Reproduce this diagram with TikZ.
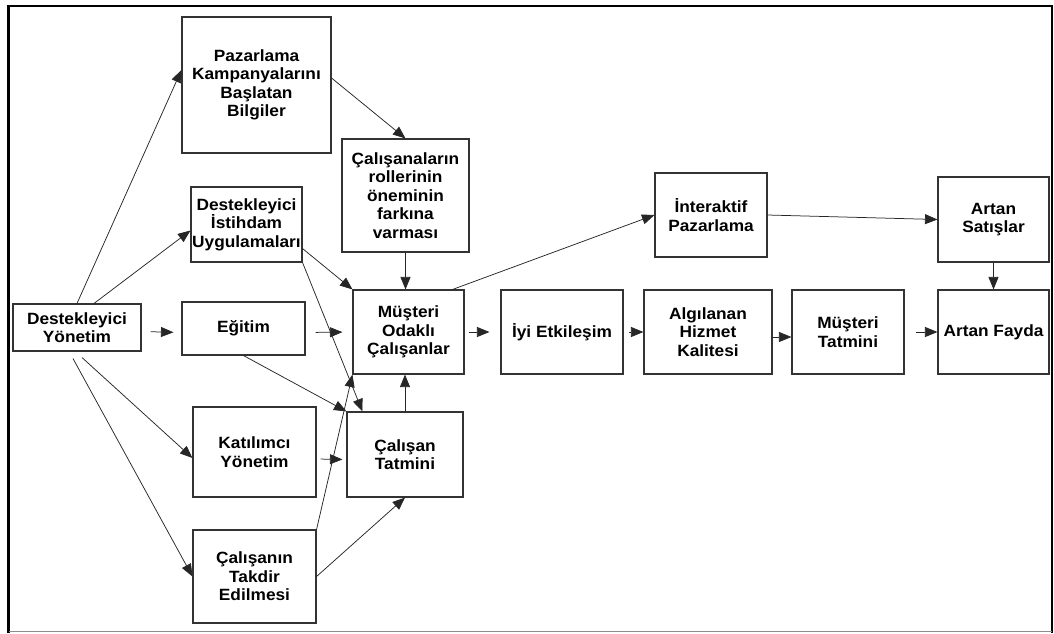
\documentclass[tikz,border=0pt]{standalone}
\usepackage{fontspec}
\setmainfont[FakeStretch=1.06]{Liberation Sans}
\usetikzlibrary{arrows.meta}
\tikzset{
  blk/.style ={draw=black!80, line width=1.1pt, align=center, inner sep=0pt, text=black,
               font=\fontsize{16.3}{18.4}\selectfont\bfseries},
  arr/.style ={-{Triangle[length=12.5pt, width=10pt]}, line width=0.75pt, black!85},   % plain link
}

\begin{document}
\begin{tikzpicture}[x=1pt, y=-1pt]
  \useasboundingbox (0,0) rectangle (1054,633);
  % frame
  \draw[line width=2.5pt] (8.5,633) -- (8.5,6) -- (1052,6) -- (1052,633);
  \draw[black!45, line width=1.5pt] (8.5,631.5) -- (1052,631.5);

  % left side
  \node[blk, minimum width=128pt, minimum height=47pt]  (dy)  at (77,327.5)    {Destekleyici\\Yönetim};
  \node[blk, minimum width=149pt, minimum height=136pt] (pkb) at (256.5,85)    {Pazarlama\\Kampanyalarını\\Başlatan\\Bilgiler};
  \node[blk, minimum width=111pt, minimum height=75pt]  (diu) at (246.5,224.5) {Destekleyici\\İstihdam\\Uygulamaları};
  \node[blk, minimum width=123pt, minimum height=53pt]  (egt) at (243.5,328.5) {Eğitim};
  \node[blk, minimum width=123pt, minimum height=90pt]  (kat) at (254.5,452)   {Katılımcı\\Yönetim};
  \node[blk, minimum width=123pt, minimum height=93pt]  (tkd) at (254.5,576.5) {Çalışanın\\Takdir\\Edilmesi};
  % middle
  \node[blk, minimum width=127pt, minimum height=113pt] (crf) at (405.5,195.5) {Çalışanaların\\rollerinin\\öneminin\\farkına\\varması};
  \node[blk, minimum width=111pt, minimum height=84pt]  (moc) at (408.5,332)   {Müşteri\\Odaklı\\Çalışanlar};
  \node[blk, minimum width=116pt, minimum height=85pt]  (ctm) at (405,454.5)   {Çalışan\\Tatmini};
  % right side
  \node[blk, minimum width=122pt, minimum height=84pt]  (iye) at (562,332)     {İyi Etkileşim};
  \node[blk, minimum width=128pt, minimum height=84pt]  (ahk) at (708,332)     {Algılanan\\Hizmet\\Kalitesi};
  \node[blk, minimum width=112pt, minimum height=84pt]  (mtm) at (848,332)     {Müşteri\\Tatmini};
  \node[blk, minimum width=111pt, minimum height=84pt]  (afy) at (993.5,332)   {Artan Fayda};
  \node[blk, minimum width=111pt, minimum height=85pt]  (asl) at (993.5,219.5) {Artan\\Satışlar};
  \node[blk, minimum width=112pt, minimum height=84pt]  (ipz) at (711,215)     {İnteraktif\\Pazarlama};

  % links out of the management box
  \draw[arr] (dy.north) -- ([yshift=15pt]pkb.west);
  \draw[arr] ([xshift=17pt]dy.north) -- ([yshift=-6pt]diu.west);
  \draw[arr, shorten <=9pt, shorten >=8pt] ([yshift=-4pt]dy.east) -- ([yshift=-4pt]egt.west);
  \draw[arr] ([xshift=5pt, yshift=-6pt]dy.south) -- ([yshift=-6pt]kat.west);
  \draw[arr] ([xshift=-4pt, yshift=-7pt]dy.south) -- (tkd.west);
  % into the two middle boxes
  \draw[arr] ([yshift=7pt]pkb.east) -- (crf.north);
  \draw[arr] (crf.south) -- (crf.south |- moc.north);
  \draw[arr] ([yshift=14pt]diu.south east) -- (moc.north west);
  \draw[arr] (diu.south east) -- ([xshift=16pt]ctm.north west);
  \draw[arr, shorten <=10pt, shorten >=10pt] ([yshift=-4pt]egt.east) -- (moc.west);
  \draw[arr] (egt.south) -- (ctm.north west);
  \draw[arr, shorten <=4pt, shorten >=4pt] ([yshift=-7pt]kat.east) -- ([yshift=-5pt]ctm.west);
  \draw[arr] (tkd.north east) -- (moc.south west);
  \draw[arr] (tkd.east) -- (ctm.south);
  \draw[arr] (ctm.north) -- (ctm.north |- moc.south);
  % chain to the right
  \draw[arr] ([xshift=-12pt]moc.north east) -- (ipz.west);
  \draw[arr, shorten <=4pt, shorten >=11pt] (moc.east) -- (iye.west);
  \draw[arr, shorten <=5pt] (iye.east) -- (ahk.west);
  \draw[arr] ([yshift=-5pt]ahk.east) -- ([yshift=-5pt]mtm.west);
  \draw[arr, shorten <=11pt] (mtm.east) -- (afy.west);
  \draw[arr] (ipz.east) -- (asl.west);
  \draw[arr] (asl.south) -- (afy.north);
\end{tikzpicture}
\end{document}
